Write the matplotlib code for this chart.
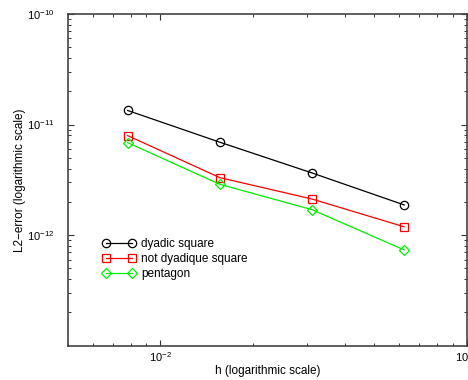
import matplotlib
matplotlib.use('Agg')
import matplotlib.pyplot as plt
import numpy as np

plt.rcParams['font.family'] = ['Liberation Sans', 'DejaVu Sans']
plt.rcParams['mathtext.fontset'] = 'custom'
plt.rcParams['mathtext.rm'] = 'Liberation Sans'

h = [1/128, 1/64, 1/32, 1/16]
err_dyadic = [1.34e-11, 6.92e-12, 3.65e-12, 1.875e-12]
err_not_dyadic = [7.94e-12, 3.31e-12, 2.12e-12, 1.19e-12]
err_pentagon = [6.86e-12, 2.88e-12, 1.70e-12, 7.35e-13]
y_major = [1e-12, 1e-11, 1e-10]

fig = plt.figure(figsize=(4.68, 3.8), dpi=100)
ax = fig.add_axes([0.146, 0.0903, 0.851, 0.873])

ax.plot(h, err_dyadic, color='black', lw=0.9, marker='o', ms=6,
        mfc='none', mec='black', mew=0.9, label='dyadic square')
ax.plot(h, err_not_dyadic, color='red', lw=0.9, marker='s', ms=5.5,
        mfc='none', mec='red', mew=0.9, label='not dyadique square')
ax.plot(h, err_pentagon, color='#00ee00', lw=0.9, marker='D', ms=4.8,
        mfc='none', mec='#00ee00', mew=0.9, label='pentagon')

ax.set_xscale('log')
ax.set_yscale('log')
ax.set_xlim(5e-3, 1e-1)
ax.set_ylim(1e-13, 1e-10)
ax.set_yticks(y_major)

ax.tick_params(which='both', direction='in', top=True, right=True,
               labelsize=8, color='#333333')
ax.tick_params(which='major', length=4, width=0.8)
ax.tick_params(which='minor', length=2.5, width=0.7)
ax.tick_params(axis='y', pad=10)
ax.tick_params(axis='x', pad=3)
for s in ax.spines.values():
    s.set_linewidth(1.2)
    s.set_color('#444444')

ax.set_xlabel('h (logarithmic scale)', fontsize=8.5, labelpad=1)
ax.set_ylabel('L2\u2212error (logarithmic scale)', fontsize=8.5, labelpad=1)

ax.legend(loc='upper left', bbox_to_anchor=(0.085, 0.325), frameon=False,
          fontsize=8.5, numpoints=2, handlelength=2.8, handletextpad=0.5,
          labelspacing=0.25, borderpad=0, borderaxespad=0)

fig.savefig('out.png', dpi=100)
